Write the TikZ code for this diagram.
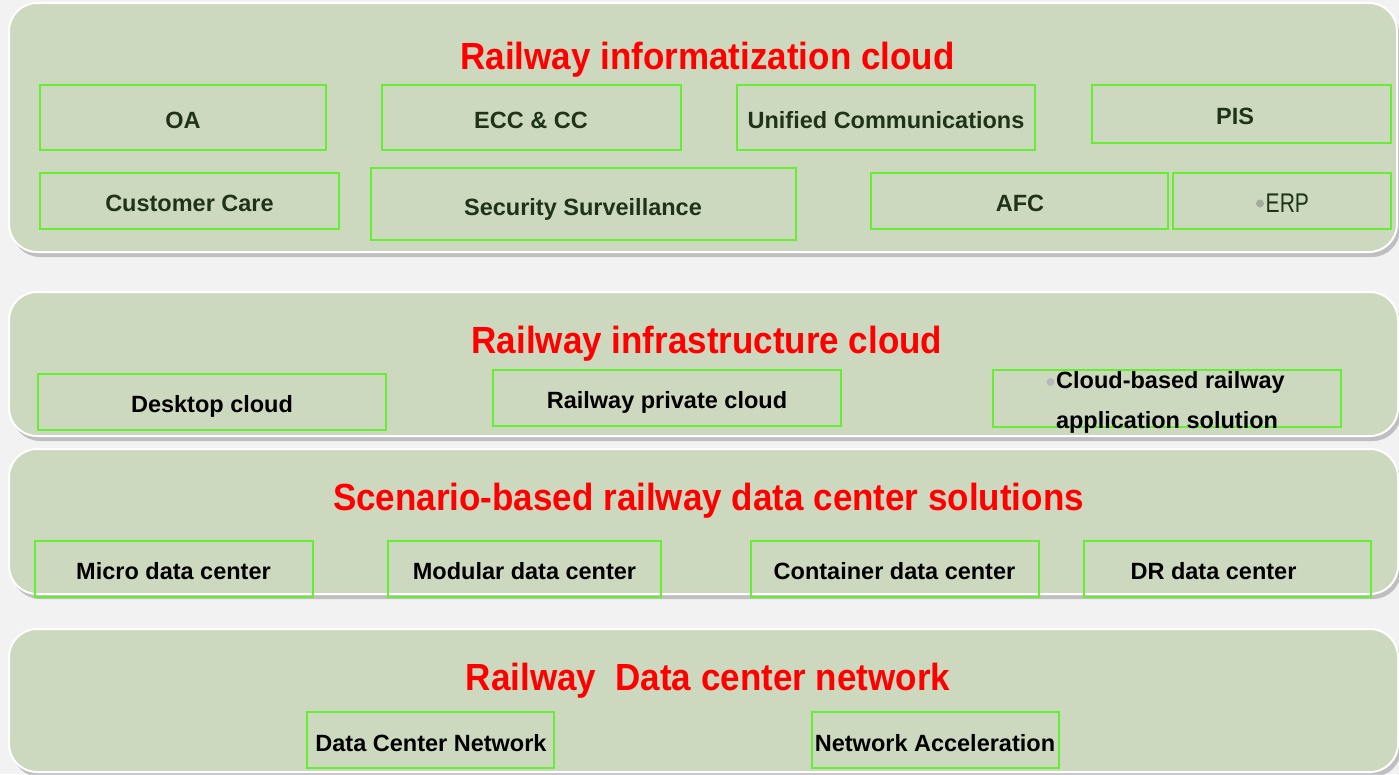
\documentclass[tikz,border=0pt]{standalone}
\usepackage{fontspec}
\setmainfont{Liberation Sans}
\usetikzlibrary{shadows}
\definecolor{bgcol}{HTML}{F2F2F2}
\definecolor{panelcol}{HTML}{CDD9BE}
\definecolor{boxline}{HTML}{66EE33}
\definecolor{dgreen}{HTML}{1F3318}
\definecolor{tred}{HTML}{FF0000}
\definecolor{dotgrey}{HTML}{A3AA9B}
\newcommand\mkbox[5]{\node[gbox, minimum width=#4pt, minimum height=#5pt] (#1) at (#2,#3) {};}
\newcommand\mktitle[4]{%
  \node[titletext, anchor=base] (#1) at (#2,#3) {\scalebox{1}[1.08]{#4}};}
\begin{document}
\begin{tikzpicture}[x=1pt,y=-1pt,
  panelstyle/.style={draw=white, line width=2pt, fill=panelcol, rounded corners=28pt, inner sep=0pt,
     drop shadow={shadow xshift=3pt, shadow yshift=-5pt, opacity=0.3, fill=black!70}},
  gbox/.style={draw=boxline, line width=2pt, inner sep=0pt},
  titletext/.style={font=\fontsize{35}{40}\selectfont\bfseries, text=tred, inner sep=0pt},
  txt/.style={font=\fontsize{23.5}{28}\selectfont\bfseries, text=black, inner sep=0pt, anchor=base},
  gtxt/.style={txt, text=dgreen},
]
\fill[bgcol] (0,0) rectangle (1399,774);
\useasboundingbox (0,0) rectangle (1399,774);

% panels
\node[panelstyle, minimum width=1388pt, minimum height=249pt] (p1) at (703,127.5) {};
\node[panelstyle, minimum width=1389pt, minimum height=144pt] (p2) at (703.5,364) {};
\node[panelstyle, minimum width=1389pt, minimum height=145pt] (p3) at (703.5,521.5) {};
\node[panelstyle, minimum width=1389pt, minimum height=143pt] (p4) at (703.5,700.5) {};

% titles
\mktitle{t1}{707.5}{69}{Railway informatization cloud}
\mktitle{t2}{707}{353}{Railway infrastructure cloud}
\mktitle{t3}{708.5}{510}{Scenario-based railway data center solutions}
\mktitle{t4}{708}{690}{Railway~ Data center network}

% panel 1 boxes
\mkbox{oa}{183}{117.5}{286}{65}
\mkbox{ecc}{531.5}{117.5}{299}{65}
\mkbox{uc}{886}{117.5}{298}{65}
\mkbox{pis}{1241.5}{114}{299}{58}
\mkbox{cc}{189.5}{201}{299}{56}
\mkbox{ss}{583.5}{204}{425}{72}
\mkbox{afc}{1019.5}{201}{297}{56}
\mkbox{erp}{1282}{201}{218}{56}

\node[gtxt] (oat) at (183,128) {OA};
\node[gtxt] (ecct) at (531,128) {ECC \& CC};
\node[gtxt] (uct) at (886,128) {Unified Communications};
\node[gtxt] (pist) at (1235,124) {PIS};
\node[gtxt] (cct) at (189.5,211) {Customer Care};
\node[gtxt] (sst) at (583,215) {Security Surveillance};
\node[gtxt] (afct) at (1020,211) {AFC};
\fill[dotgrey] (1260,203.5) circle (4pt);
\node[inner sep=0pt, anchor=base west, text=dgreen, font=\fontsize{27}{32}\selectfont] (erpt) at (1265.5,212) {\scalebox{0.78}[1]{ERP}};

% panel 2 boxes
\mkbox{dc}{212}{402}{348}{56}
\mkbox{rpc}{667}{398}{348}{56}
\mkbox{cb}{1167}{398.5}{348}{57}
\node[txt] (dct) at (212,412) {Desktop cloud};
\node[txt] (rpct) at (667,408) {Railway private cloud};
\fill[black!28] (1050.5,382) circle (4pt);
\node[txt, anchor=base west] (cbt1) at (1056,388) {Cloud-based railway};
\node[txt] (cbt2) at (1167,428) {application solution};

% panel 3 boxes
\mkbox{mdc}{174}{569}{278}{56}
\mkbox{mod}{524.5}{569}{273}{56}
\mkbox{con}{895}{569}{288}{56}
\mkbox{dr}{1227.5}{569}{287}{56}
\node[txt] (mdct) at (173.5,579) {Micro data center};
\node[txt] (modt) at (524.5,579) {Modular data center};
\node[txt] (cont) at (894.5,579) {Container data center};
\node[txt] (drt) at (1213.5,579) {DR data center};

% panel 4 boxes
\mkbox{dcn}{430.5}{740}{247}{56}
\mkbox{na}{935.5}{740}{247}{56}
\node[txt] (dcnt) at (431,751) {Data Center Network};
\node[txt] (nat) at (935,751) {Network Acceleration};
\end{tikzpicture}
\end{document}
